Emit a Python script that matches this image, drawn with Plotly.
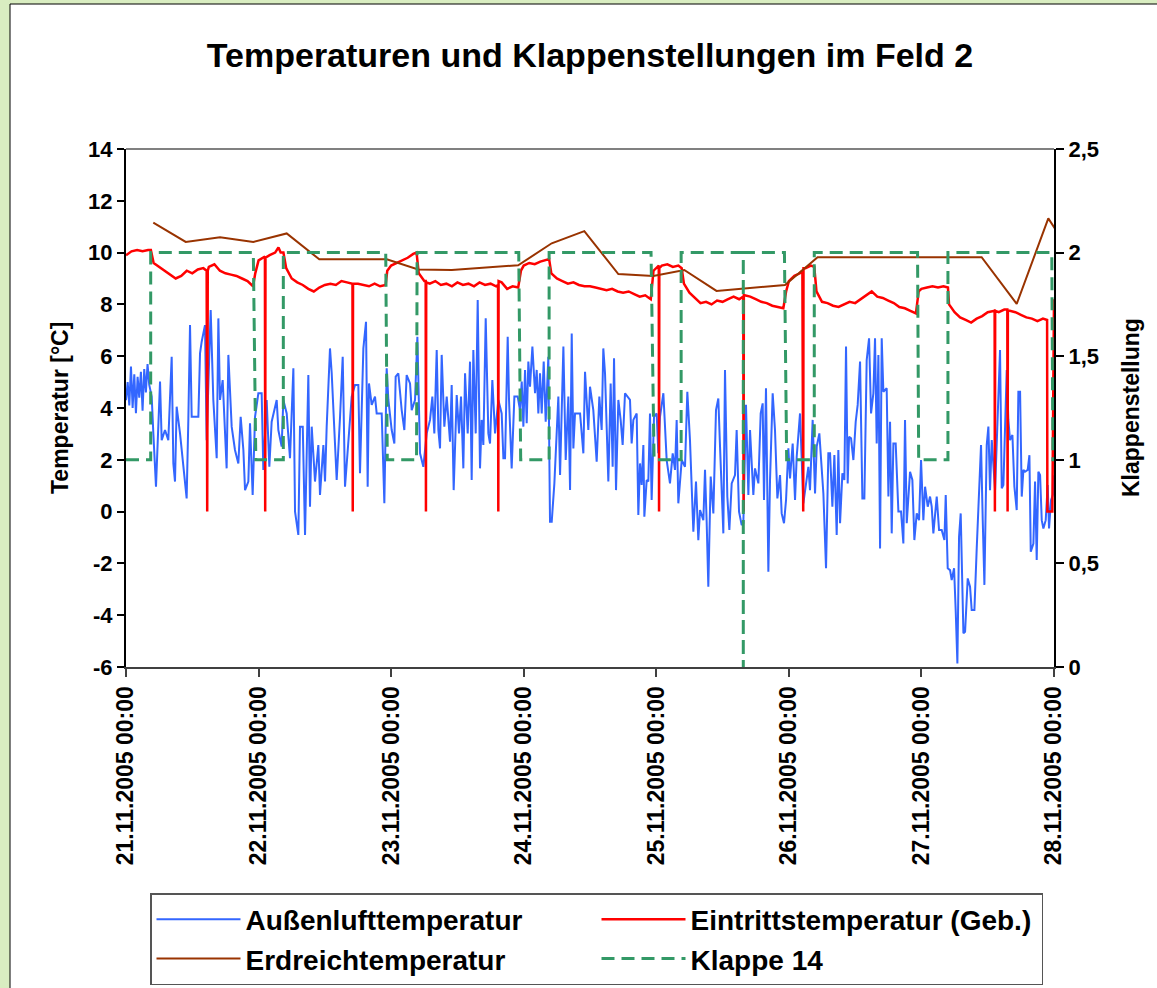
import pandas as pd
import plotly.graph_objects as go

# ---------------- data (hours since 21.11.2005 00:00) ----------------
start = pd.Timestamp("2005-11-21 00:00")

aussen_hours = [
    0.0, 0.3, 0.6, 0.9, 1.2, 1.5, 1.8, 2.1, 2.4, 2.7, 3.0, 3.3, 3.6, 3.9, 4.2, 4.65, 4.95, 5.43,
    6.16, 6.46, 7.06, 7.66, 8.27, 8.57, 8.87, 9.17, 9.78, 10.38, 10.98, 11.29, 11.59, 11.89, 13.1,
    13.4, 13.7, 14.3, 14.6, 15.33, 15.81, 16.42, 16.72, 17.02, 17.5, 18.22, 18.53, 19.13, 19.73,
    20.34, 20.76, 21.25, 21.55, 22.15, 22.45, 22.93, 23.36, 23.96, 24.56, 24.86, 25.47, 25.95,
    26.37, 27.28, 27.58, 28.18, 28.48, 29.09, 29.69, 30.3, 30.6, 31.2, 31.5, 32.0, 32.41, 33.01,
    33.31, 33.62, 34.22, 34.82, 35.12, 35.73, 36.03, 36.33, 36.93, 37.24, 37.54, 38.14, 38.75,
    39.23, 39.65, 40.25, 40.86, 41.46, 42.06, 42.36, 42.97, 43.45, 43.75, 43.99, 44.48, 45.08,
    45.38, 46.29, 46.77, 47.19, 47.5, 48.1, 48.58, 48.82, 49.3, 49.91, 50.39, 50.81, 51.42, 51.72,
    52.32, 52.75, 53.23, 53.83, 54.44, 55.04, 55.46, 55.82, 56.25, 56.55, 56.85, 57.15, 57.63,
    58.06, 58.66, 58.96, 59.32, 59.87, 60.29, 60.65, 61.07, 61.38, 61.86, 62.28, 62.58, 62.88,
    63.31, 63.67, 64.09, 64.39, 64.69, 65.12, 65.6, 65.9, 66.32, 66.81, 67.41, 68.01, 68.32,
    68.62, 69.1, 69.34, 69.82, 70.31, 70.91, 71.33, 71.64, 71.94, 72.24, 72.54, 72.84, 73.14,
    73.57, 74.05, 74.35, 74.65, 74.95, 75.26, 75.62, 75.98, 76.46, 76.76, 77.07, 77.55, 77.85,
    78.27, 78.58, 78.88, 79.18, 79.6, 80.08, 80.39, 80.69, 80.99, 81.29, 82.2, 82.5, 82.8, 83.1,
    83.7, 84.0, 84.6, 85.21, 85.69, 86.11, 86.41, 86.72, 87.32, 87.74, 88.1, 88.35, 88.71, 89.13,
    89.55, 89.91, 90.34, 91.24, 91.54, 91.85, 92.45, 92.75, 93.05, 93.35, 93.66, 93.84, 94.26,
    94.56, 94.86, 95.16, 95.59, 96.07, 96.37, 96.67, 97.28, 97.88, 98.48, 98.97, 99.39, 99.69,
    99.99, 100.6, 101.2, 101.62, 102.1, 102.71, 103.19, 103.61, 103.92, 104.52, 104.82, 105.12,
    105.42, 105.85, 106.33, 106.81, 107.23, 107.54, 107.84, 108.14, 108.44, 108.86, 109.23,
    109.65, 110.25, 110.55, 110.98, 111.46, 111.76, 112.24, 112.67, 112.97, 113.57, 113.87,
    114.48, 114.9, 115.26, 115.5, 115.86, 116.29, 116.59, 117.07, 117.49, 117.92, 118.4, 118.7,
    119.12, 119.49, 119.91, 120.21, 120.69, 121.12, 121.42, 122.02, 122.62, 123.11, 123.53,
    123.83, 124.31, 124.74, 125.04, 125.52, 126.25, 126.73, 127.15, 127.46, 127.88, 128.24,
    128.66, 128.96, 129.27, 129.69, 130.05, 130.35, 130.65, 130.9, 131.26, 131.68, 132.1, 132.46,
    132.89, 133.31, 133.67, 134.09, 134.52, 134.88, 135.3, 135.6, 135.9, 136.21, 136.51, 136.81,
    137.11, 137.71, 138.02, 138.32, 138.62, 138.92, 139.34, 139.83, 140.31, 140.73, 141.03,
    141.34, 141.64, 141.94, 142.36, 142.72, 143.15, 143.57, 143.93, 144.35, 144.66, 145.14,
    145.56, 145.86, 146.16, 146.77, 147.19, 147.67, 148.16, 148.4, 148.76, 149.18, 149.48,
    149.91, 150.21, 150.51, 150.81, 151.11, 151.6, 151.9, 152.38, 152.8, 153.1, 153.59, 154.01,
    154.43, 154.79, 155.1, 155.4, 155.82, 156.12, 156.42, 156.73, 157.33, 158.23, 158.54,
    158.84, 159.44, 159.74, 160.04, 160.47, 160.83, 161.25, 161.55, 161.86, 162.16, 162.46,
    162.76, 163.24, 163.55, 163.79, 164.27, 164.57, 164.87, 165.17, 165.48, 165.78, 166.08,
    166.5, 166.86, 167.1, 167.47, 167.89, 168.0,
]
aussen_temp = [
    4.3, 5.0, 4.1, 5.6, 4.0, 5.3, 3.8, 5.2, 4.4, 5.4, 3.9, 5.5, 4.6, 5.7, 4.9, 4.44, 3.02, 0.96,
    5.02, 2.76, 3.15, 2.76, 5.98, 1.86, 1.16, 4.05, 3.02, 1.73, 0.51, 3.60, 7.20, 3.66, 3.66,
    6.11, 6.56, 7.20, 2.76, 7.78, 4.31, 2.06, 7.46, 4.31, 5.08, 1.67, 6.05, 3.28, 2.38,
    1.86, 3.66, 2.38, 0.83, 1.16, 3.41, 0.64, 3.66, 4.57, 4.57, 1.61, 4.31, 1.73,
    3.47, 4.31, 3.15, 2.51, 4.31, 3.79, 2.06, 5.53, 0.00, -0.90, 3.28, 3.28, -0.90, 5.27,
    0.19, 3.28, 1.16, 2.57, 0.64, 2.57, 1.16, 3.28, 6.30, 5.34, 4.05, 1.22, 3.66,
    5.98, 0.96, 2.76, 4.44, 4.89, 4.89, 1.48, 6.30, 7.33, 0.96, 4.95, 4.12, 4.44,
    3.79, 3.79, 0.32, 5.53, 4.31, 3.15, 2.63, 5.21, 5.34, 3.92, 3.15, 5.27, 4.95, 3.92,
    4.31, 6.75, 2.25, 1.73, 3.02, 3.54, 4.44, 3.02, 6.24, 3.15, 2.44, 6.05, 3.28,
    4.44, 2.70, 4.89, 0.83, 4.50, 3.02, 4.44, 1.67, 5.34, 3.02, 5.79, 1.22, 6.24,
    3.02, 8.17, 1.67, 3.54, 2.57, 7.46, 3.02, 2.63, 5.08, 3.02, 4.31, 3.79, 2.06,
    2.06, 6.75, 4.31, 1.67, 4.44, 4.44, 3.92, 5.02, 3.28, 5.47, 3.41, 5.79, 4.82,
    6.37, 4.57, 5.47, 3.79, 5.34, 3.79, 5.79, 3.47, 5.98, -0.39, -0.39, 1.09, 2.57,
    4.44, 1.41, 4.44, 6.37, 1.99, 4.44, 0.83, 6.88, 2.44, 3.79, 3.79, 2.89, 2.25, 5.40,
    3.15, 4.82, 3.92, 1.93, 4.44, 3.15, 6.30, 5.34, 1.16, 4.95, 1.73, 5.92, 0.83, 4.31,
    3.54, 2.57, 4.57, 4.31, 2.63, 3.54, 3.79, -0.13, 1.86, 1.03, 2.57, -0.20, 1.22,
    1.16, 3.79, 0.45, 3.66, 3.79, 2.25, 3.66, 4.57, 1.99, 1.09, 2.25, 1.61, 3.54,
    0.32, 1.99, 1.73, 4.63, 2.76, -0.78, 1.16, -1.10, 0.06, -0.33, 1.61, -0.39,
    -2.90, 1.35, -0.07, 3.92, 4.37, 2.51, 0.45, -0.84, 5.47, 0.58, -0.71,
    1.09, 1.41, 3.15, 0.00, -0.52, -0.45, 4.12, 0.64, 3.15, 0.64, 1.67,
    1.09, 3.79, 4.18, 0.45, 4.76, -2.32, 1.22, 4.57, 3.15, 0.51, 1.41, -0.07,
    -0.45, 0.45, 2.44, 1.28, 2.63, 0.45, 2.12, 3.79, 0.32, 1.09, 1.73,
    0.83, 3.54, 0.70, 2.51, 3.02, 0.70, -2.19, 2.25, 2.25, 0.19, 2.18,
    -0.90, 2.38, -0.45, 1.48, 1.22, 6.37, 1.09, 2.89, 2.83, 1.99, 3.47, 4.12,
    5.79, 0.51, 0.51, 5.85, 6.69, 3.79, 4.57, 6.69, 2.63, 6.05, -1.42, 6.69,
    4.63, 4.76, 0.58, 3.47, -0.84, 2.63, 2.63, 0.00, 0.00, -1.23, 3.54,
    -0.45, 0.51, 1.54, 1.22, -1.10, -0.07, -0.33, 1.99, -0.33, 0.96, 0.19,
    0.58, 0.19, -0.84, 0.58, -0.71, -0.71, -1.10, 0.64, -2.19, -2.26, -2.64,
    -2.19, -3.86, -5.86, -0.97, -0.07, -4.70, -4.64, -2.58, -2.90, -3.80, -3.80, -1.42,
    1.16, 2.57, -0.33, -2.83, 2.57, 3.28, 0.83, 2.76, 0.83, 6.24, 0.90,
    1.03, 5.47, 3.54, 2.76, 2.96, 0.96, 0.06, 4.63, 4.63, 0.58, 1.61,
    1.54, 1.61, 2.18, -1.55, -1.23, 1.16, -1.87, 1.54, 1.41, -0.33, -0.65,
    -0.33, 1.03, -0.65, 0.45, 0.70, 1.4,
]

eintritt_hours = [
    0, 1, 2, 3, 4, 4.5, 5, 6, 7, 8, 9, 10, 11, 12, 13, 14, 14.6, 14.7, 14.8, 15, 16, 17, 18, 19,
    20, 21, 22, 23, 23.4, 24, 25, 25.15, 25.2, 25.25, 26, 27, 27.6, 28, 28.5, 29, 30, 31, 32, 33,
    34, 35, 36, 37, 38, 39, 40, 41.0, 41.05, 41.1, 42, 43, 44, 45, 46, 47, 47.3, 48, 49, 50, 51,
    52, 52.6, 53, 54, 54.25, 54.3, 54.35, 55, 56, 57, 58, 59, 60, 61, 62, 63, 64, 65, 66, 67,
    67.35, 67.4, 67.45, 68, 69, 70, 71, 71.5, 72, 73, 74, 75, 76, 76.6, 77, 78, 79, 80, 81, 82,
    83, 84, 85, 86, 87, 88, 89, 90, 91, 92, 93, 94, 95, 95.5, 96, 96.45, 96.5, 96.55, 97, 98, 99,
    100, 100.6, 101, 102, 103, 104, 105, 106, 107, 108, 109, 110, 111, 111.75, 111.8, 111.85,
    112, 113, 114, 115, 116, 117, 118, 119, 119.5, 120, 121, 122, 122.45, 122.5, 122.6, 122.65,
    123, 124, 124.6, 125, 126, 127, 128, 129, 130, 131, 132, 133, 134, 135, 136, 137, 138, 139,
    140, 141, 142, 143, 143.5, 144, 145, 146, 147, 148, 148.8, 149, 150, 151, 152, 153, 154,
    155, 156, 157, 157.25, 157.3, 157.35, 158, 159, 159.55, 159.6, 159.65, 160, 161, 162, 163,
    164, 165, 166, 166.75, 166.8, 167.7, 168,
]
eintritt_temp = [
    9.9, 10.05, 10.1, 10.05, 10.1, 10.1, 9.6, 9.45, 9.3, 9.15, 9.0, 9.1, 9.3, 9.2, 9.35, 9.4, 9.3,
    0.0, 9.3, 9.45, 9.55, 9.3, 9.2, 9.15, 9.1, 9.0, 8.9, 8.7, 9.2, 9.7, 9.85, 9.85, 0.0, 9.8, 9.9,
    10.0, 10.2, 10.0, 10.0, 9.4, 9.0, 8.85, 8.75, 8.6, 8.5, 8.65, 8.75, 8.8, 8.75, 8.9, 8.85, 8.8,
    0.0, 8.8, 8.8, 8.75, 8.7, 8.8, 8.7, 8.75, 9.3, 9.5, 9.6, 9.7, 9.8, 9.95, 10.0, 9.2, 8.9, 8.9,
    0.0, 8.85, 8.8, 8.9, 8.75, 8.8, 8.7, 8.85, 8.75, 8.8, 8.7, 8.85, 8.75, 8.8, 8.7, 8.75, 0.0,
    8.9, 8.85, 8.6, 8.7, 8.65, 9.3, 9.5, 9.6, 9.55, 9.65, 9.7, 9.75, 9.2, 9.0, 8.9, 8.8, 8.85,
    8.75, 8.7, 8.7, 8.65, 8.6, 8.55, 8.6, 8.5, 8.45, 8.5, 8.4, 8.3, 8.35, 8.2, 9.3, 9.4, 9.5, 0.0,
    9.4, 9.5, 9.55, 9.45, 9.5, 9.4, 8.8, 8.45, 8.25, 8.05, 8.1, 8.0, 8.15, 8.1, 8.2, 8.3, 8.2,
    8.3, 0.0, 8.35, 8.35, 8.3, 8.2, 8.1, 8.05, 7.95, 7.9, 7.85, 8.5, 8.9, 9.1, 9.2, 9.3, 0.0, 0.0,
    9.4, 9.4, 9.5, 9.45, 8.5, 8.1, 8.05, 7.95, 7.9, 8.0, 8.1, 8.05, 8.2, 8.35, 8.5, 8.3, 8.25,
    8.15, 8.05, 7.9, 7.85, 7.75, 7.65, 8.5, 8.6, 8.65, 8.7, 8.65, 8.7, 8.65, 8.0, 7.7, 7.5, 7.4,
    7.3, 7.45, 7.55, 7.7, 7.75, 7.75, 0.0, 7.75, 7.7, 7.8, 7.8, 0.0, 7.75, 7.75, 7.7, 7.6, 7.5,
    7.45, 7.35, 7.45, 7.4, 0.0, 0.0, 8.2,
]

erdreich_hours = [4.94, 10.81, 17.02, 23.05, 29.09, 34.99, 47.2, 52.9, 58.97, 71.0, 77.07, 82.97,
                  89.13, 95.46, 101.07, 106.9, 119.3, 125.2, 154.9, 161.25, 166.97, 168.4]
erdreich_temp = [11.16, 10.41, 10.59, 10.41, 10.74, 9.74, 9.74, 9.35, 9.33, 9.51, 10.36, 10.83,
                 9.17, 9.10, 9.33, 8.52, 8.75, 9.82, 9.82, 8.02, 11.32, 10.85]

klappe_hours = [0, 4.47, 4.47, 23.05, 23.5, 28.48, 28.48, 47.02, 47.3, 52.6, 52.7, 71.1, 71.45,
                76.6, 76.6, 95.05, 95.6, 100.5, 100.5, 111.75, 111.75, 111.75, 119.2, 119.6,
                124.6, 124.6, 143.3, 143.5, 148.8, 148.8, 167.6, 167.8, 168]
klappe_pos = [1, 1, 2, 2, 1, 1, 2, 2, 1, 1, 2, 2, 1, 1, 2, 2, 1, 1, 2, 2, 0, 2, 2, 1, 1, 2, 2,
              1, 1, 2, 2, 1, 1]

y1_ticks = [-6, -4, -2, 0, 2, 4, 6, 8, 10, 12, 14]
y1_ticktext = ["-6", "-4", "-2", "0", "2", "4", "6", "8", "10", "12", "14"]
y2_ticks = [0, 0.5, 1, 1.5, 2, 2.5]
y2_ticktext = ["0", "0,5", "1", "1,5", "2", "2,5"]

title_text = "Temperaturen und Klappenstellungen im Feld 2"
y1_title = "Temperatur [°C]"
y2_title = "Klappenstellung"
names = ["Außenlufttemperatur", "Eintrittstemperatur (Geb.)", "Erdreichtemperatur", "Klappe 14"]


def to_time(hours):
    return [start + pd.Timedelta(hours=h) for h in hours]


FONT = "Liberation Sans, Arial, Helvetica, sans-serif"

fig = go.Figure()
fig.add_trace(go.Scatter(x=to_time(aussen_hours), y=aussen_temp, mode="lines", name=names[0],
                         line=dict(color="#3366FF", width=2)))
fig.add_trace(go.Scatter(x=to_time(eintritt_hours), y=eintritt_temp, mode="lines", name=names[1],
                         line=dict(color="#FF0000", width=2.5)))
fig.add_trace(go.Scatter(x=to_time(erdreich_hours), y=erdreich_temp, mode="lines", name=names[2],
                         line=dict(color="#993300", width=2)))
fig.add_trace(go.Scatter(x=to_time(klappe_hours), y=klappe_pos, mode="lines", name=names[3],
                         yaxis="y2", line=dict(color="#339966", width=3, dash="13px,7px")))

fig.update_layout(
    width=1157, height=988,
    margin=dict(l=126, r=103, t=149, b=321, autoexpand=False),
    paper_bgcolor="#D9EDC1", plot_bgcolor="white",
    font=dict(family=FONT, color="black", size=22, weight="bold"),
    separators=", ",
    showlegend=True,
    title=dict(text=title_text, x=0.5, xref="paper", xanchor="center",
               y=1 - 55 / 988, yref="container", yanchor="middle",
               font=dict(size=34, family=FONT, weight="bold", color="black")),
    xaxis=dict(type="date", range=[start, start + pd.Timedelta(days=7)],
               tick0=start, dtick=86400000, tickformat="%d.%m.%Y %H:%M", tickangle=-90,
               tickfont=dict(size=23, weight="bold"), ticks="outside", ticklen=8,
               tickcolor="#404040", tickwidth=2, showline=True, linecolor="#404040",
               linewidth=2, showgrid=False, zeroline=False, automargin=False),
    yaxis=dict(range=[-6, 14], tickmode="array", tickvals=y1_ticks, ticktext=y1_ticktext,
               ticks="outside", ticklen=7, tickwidth=1.5,
               tickcolor="black", showline=True, linecolor="black", linewidth=2,
               showgrid=False, zeroline=False, tickfont=dict(size=22, weight="bold"),
               automargin=False),
    yaxis2=dict(range=[0, 2.5], tickmode="array", tickvals=y2_ticks, ticktext=y2_ticktext,
                overlaying="y", side="right",
                ticks="outside", ticklen=8, tickwidth=1.5, tickcolor="black", showline=True,
                linecolor="black", linewidth=2, showgrid=False, zeroline=False,
                tickfont=dict(size=22, weight="bold"), automargin=False),
    legend=dict(orientation="h", x=(150 - 126) / 928, y=(667 - 893) / 518,
                xanchor="left", yanchor="top", entrywidth=346, entrywidthmode="pixels",
                bgcolor="white", bordercolor="#555555", borderwidth=1.5,
                font=dict(size=28, family=FONT, weight="bold"), itemwidth=84,
                traceorder="normal"),
    shapes=[
        dict(type="rect", xref="paper", yref="paper", x0=(10 - 126) / 928, x1=1.2,
             y0=-0.7, y1=(667 - 4) / 518, fillcolor="white",
             line=dict(color="black", width=1), layer="below"),
        dict(type="line", xref="paper", yref="paper", x0=0, x1=1, y0=1, y1=1,
             line=dict(color="#808080", width=2)),
    ],
    annotations=[
        dict(text=y1_title, xref="paper", yref="paper", x=(60 - 126) / 928, y=0.5,
             textangle=-90, showarrow=False, xanchor="center", yanchor="middle",
             font=dict(size=23, family=FONT, weight="bold")),
        dict(text=y2_title, xref="paper", yref="paper", x=(1131 - 126) / 928, y=0.5,
             textangle=-90, showarrow=False, xanchor="center", yanchor="middle",
             font=dict(size=23, family=FONT, weight="bold")),
    ],
)

fig.write_html("out.html", config={"displayModeBar": False},
               post_script="document.body.style.margin='0px';")
